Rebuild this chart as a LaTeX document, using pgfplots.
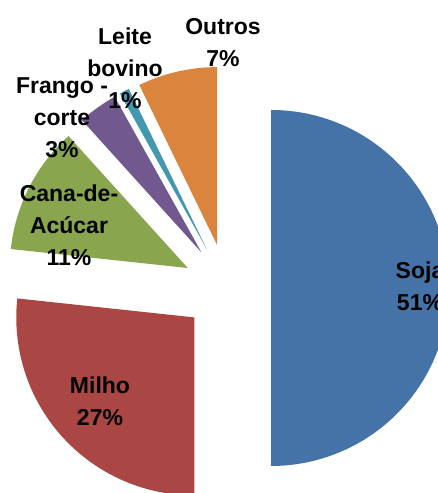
\documentclass[border=0pt]{standalone}
\usepackage{pgfplots}
\pgfplotsset{compat=1.18}
\usetikzlibrary{calc}
\usepackage{fontspec}
\setmainfont{Liberation Sans}
\definecolor{csoja}{HTML}{4572A7}
\definecolor{cmilho}{HTML}{AA4643}
\definecolor{ccana}{HTML}{89A54E}
\definecolor{cfrango}{HTML}{71588F}
\definecolor{cleite}{HTML}{4198AF}
\definecolor{coutros}{HTML}{DB843D}
% shares (percent)
\def\vSoja{50.0}
\def\vMilho{26.7}
\def\vCana{11.6}
\def\vFrango{3.6}
\def\vLeite{0.9}
\def\vOutros{7.2}
\pgfmathsetmacro\aA{90}
\pgfmathsetmacro\aB{\aA-3.6*\vSoja}
\pgfmathsetmacro\aC{\aB-3.6*\vMilho}
\pgfmathsetmacro\aD{\aC-3.6*\vCana}
\pgfmathsetmacro\aE{\aD-3.6*\vFrango}
\pgfmathsetmacro\aF{\aE-3.6*\vLeite}
\pgfmathsetmacro\aG{\aF-3.6*\vOutros}
\newcommand\slice[3]{\fill[#3] ($(axis cs:227,205)+({(#1+#2)/2}:44pt)$) -- ++(#1:178pt) arc[start angle=#1, end angle=#2, radius=178pt] -- cycle;}
\tikzset{lbl/.style={font=\bfseries\fontsize{23}{32}\selectfont, align=center, inner sep=0pt, anchor=north, text=black}}
\begin{document}
\begin{tikzpicture}
\begin{axis}[width=438pt, height=493pt, scale only axis,
  xmin=0, xmax=438, ymin=0, ymax=493, hide axis, clip=true]
\slice{\aA}{\aB}{csoja}
\slice{\aB}{\aC}{cmilho}
\slice{\aC}{\aD}{ccana}
\slice{\aD}{\aE}{cfrango}
\slice{\aE}{\aF}{cleite}
\slice{\aF}{\aG}{coutros}
\node[lbl] at (axis cs:420,231) {Soja\\51\%};
\node[lbl] at (axis cs:100,116) {Milho\\27\%};
\node[lbl] at (axis cs:69,308) {Cana-de-\\Acúcar\\11\%};
\node[lbl] at (axis cs:62,416) {Frango -\\corte\\3\%};
\node[lbl] at (axis cs:125,465) {Leite\\bovino\\1\%};
\node[lbl] at (axis cs:223,475) {Outros\\7\%};
\end{axis}
\pgfresetboundingbox
\path[use as bounding box] (current axis.south west) rectangle (current axis.north east);
\end{tikzpicture}
\end{document}
